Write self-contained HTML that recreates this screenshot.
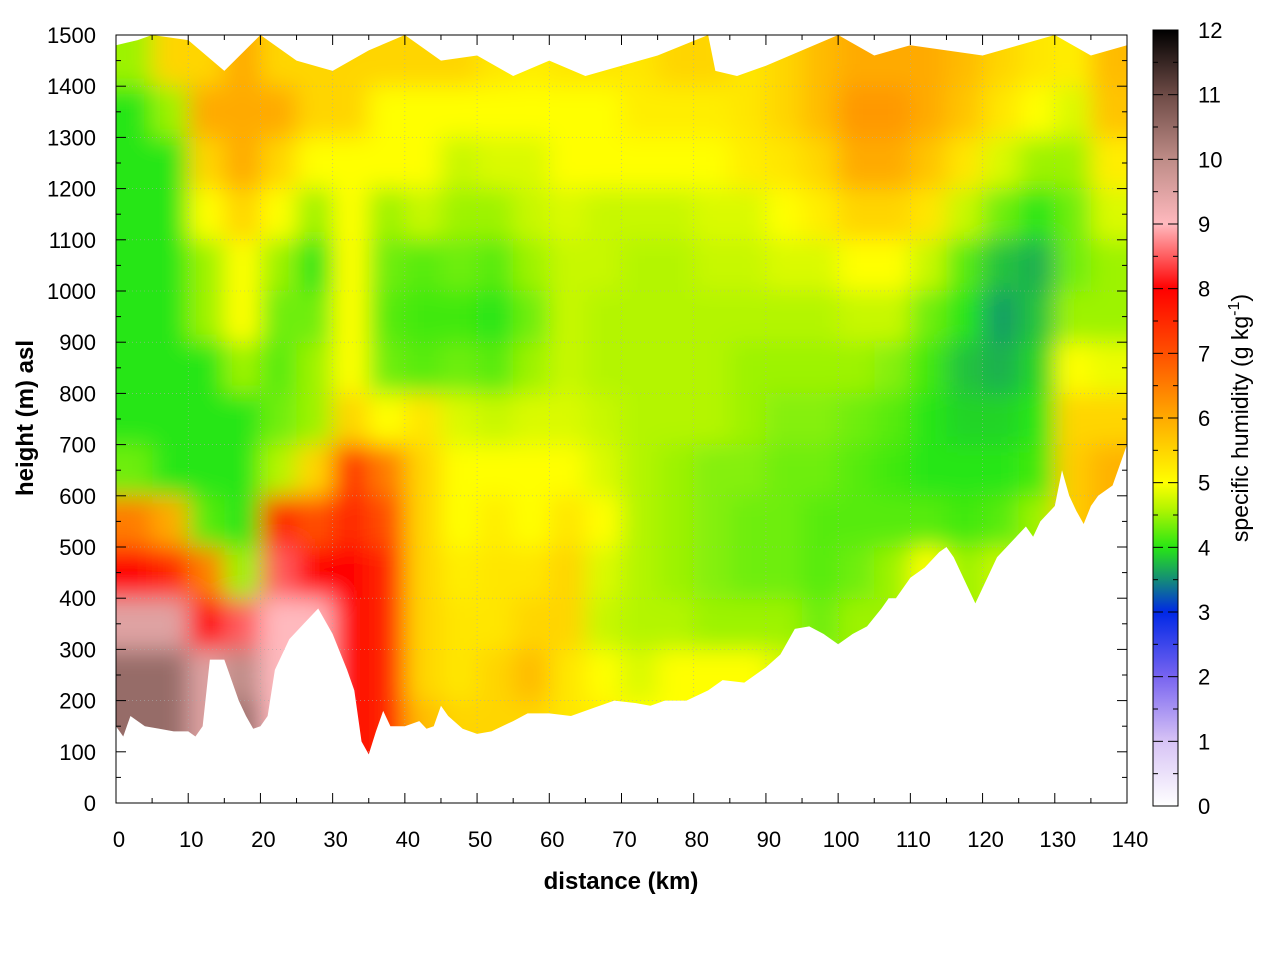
<!DOCTYPE html>
<html><head><meta charset="utf-8"><style>
body{margin:0;background:#fff}
svg text{font-family:"Liberation Sans",sans-serif;fill:#000}
</style></head><body>
<svg id="chart" width="1280" height="960" xmlns="http://www.w3.org/2000/svg">
<defs>
<clipPath id="plotclip"><rect x="116" y="35" width="1011" height="768"/></clipPath>
<filter id="blur" x="-5%" y="-5%" width="110%" height="110%"><feGaussianBlur stdDeviation="12"/></filter>
<linearGradient id="cbgrad" x1="0" y1="1" x2="0" y2="0"></linearGradient>
</defs>
<g id="heat" clip-path="url(#plotclip)"><g id="cells" filter="url(#blur)"></g></g>
<g id="grid"></g>
<path id="ground" fill="#fff"/>
<path id="topmask" fill="#fff"/>
<rect x="116" y="35" width="1011" height="768" fill="none" stroke="#000" stroke-width="1"/>
<g id="axes"></g>
<text x="621" y="889" font-size="24" font-weight="bold" text-anchor="middle">distance (km)</text>
<text transform="translate(33,418) rotate(-90)" font-size="24" font-weight="bold" text-anchor="middle">height (m) asl</text>
<rect x="1153" y="30" width="25" height="776" fill="url(#cbgrad)" stroke="#000" stroke-width="1"/>
<g id="cbaxis"></g>
<text transform="translate(1248,418) rotate(-90)" font-size="23" text-anchor="middle">specific humidity (g kg<tspan dy="-9" font-size="16">-1</tspan><tspan dy="9">)</tspan></text>
</svg>
<script>
const xTicks=[0,10,20,30,40,50,60,70,80,90,100,110,120,130,140];
const yTicks=[0,100,200,300,400,500,600,700,800,900,1000,1100,1200,1300,1400,1500];
const cbTicks=[0,1,2,3,4,5,6,7,8,9,10,11,12];
const colKm=[2.5,7.5,12.5,17.5,22.5,27.5,32.5,37.5,42.5,47.5,52.5,57.5,62.5,67.5,72.5,77.5,82.5,87.5,92.5,97.5,102.5,107.5,112.5,117.5,122.5,127.5,132.5,137.5];
const rowM=[1450,1350,1250,1150,1050,950,850,750,650,550,450,350,250,150,50];
const q=[
[4.5,4,4,4,4,4,4,4,4.3,6.5,8,9.5,10.5,10.5,10.5],
[5.5,4.5,4,4,4,4,4,4,4,6,7.5,9.5,10.5,10.5,10.5],
[5.5,6,5.5,5,4.5,4.5,4,4,4,4.2,6.5,8,9.5,9.5,9.5],
[6,6,6,5.5,5,5,4.5,4,4,4,4.5,8.5,10,10.5,10.5],
[5.5,6,5.5,5,4.5,4.3,4.2,4.3,4.6,7.5,8.5,9,9,9,9],
[5.5,5.5,5,4.5,4,4.3,4.5,4.5,5.5,7,8,9,9,9,9],
[5.5,5.5,5,5,5,5,5,5.5,7.3,7.5,8,8,8,8,8],
[5.5,5,5,4.5,4.3,4.2,4.3,5,6.5,7,7.5,7.5,7.5,7.5,7.5],
[5.5,5,5,4.7,4.2,4.1,4.2,5.3,5.5,5.5,5.5,5.5,5.5,5.8,5.8],
[5.5,5,4.7,4.5,4.3,4.1,4.3,4.8,5,5,5.2,5.3,5.3,5.5,5.5],
[5.3,5,4.8,4.5,4.2,4,4.2,4.7,5,5.2,5.3,5.3,5.5,5.5,5.5],
[5.2,5,4.8,4.7,4.5,4.3,4.5,4.8,5,5,5.3,5.5,5.8,5.5,5.5],
[5.3,5,5,4.8,4.7,4.7,4.7,4.8,5,5.3,5.5,5.5,5.3,5.3,5.3],
[5.3,5,5,4.7,4.7,4.6,4.6,4.7,4.8,5,4.8,4.7,5,5.2,5.2],
[5.3,5.2,5,4.7,4.6,4.6,4.6,4.6,4.6,4.6,4.6,4.6,4.8,5,5],
[5.5,5.2,5,4.7,4.6,4.6,4.6,4.6,4.5,4.5,4.5,4.6,5,5,5],
[5.5,5.2,5,4.8,4.7,4.6,4.6,4.6,4.4,4.4,4.4,4.5,5,5,5],
[5.3,5.3,5.2,4.8,4.7,4.6,4.5,4.5,4.4,4.3,4.3,4.5,5,5,5],
[5.5,5.5,5.3,5,4.8,4.6,4.5,4.4,4.3,4.3,4.3,4.5,4.8,4.8,4.8],
[5.8,5.8,5.5,5.2,4.8,4.6,4.5,4.4,4.3,4.2,4.2,4.3,4.5,4.5,4.5],
[6,6.2,6,5.5,5,4.7,4.5,4.3,4.2,4.2,4.3,4.5,4.5,4.5,4.5],
[6,6.2,6,5.5,5,4.7,4.4,4.2,4.1,4.2,4.5,4.5,4.5,4.5,4.5],
[6,6,5.7,5.3,4.7,4.3,4.1,4,4,4.2,5,5,5,5,5],
[5.8,5.7,5.3,4.7,4.2,4,3.8,3.9,4,4.1,4.5,4.5,4.5,4.5,4.5],
[5.5,5.3,4.8,4.3,3.8,3.6,3.7,3.9,4,4.2,4.7,4.7,4.7,4.7,4.7],
[5.3,5,4.5,4,3.7,3.8,3.9,4,4.1,4.5,4.5,4.5,4.5,4.5,4.5],
[5.2,4.8,4.5,4.3,4.3,4.5,5,5.5,5.6,5.6,5.6,5.6,5.6,5.6,5.6],
[5.8,5.7,5.2,4.8,4.5,4.5,4.9,5.5,5.9,5.9,5.9,5.9,5.9,5.9,5.9]];
const groundKm=[0,1,2,4,6,8,10,11,12,13,15,16,17,18,19,20,21,22,24,26,28,30,32,33,34,35,36,37,38,40,42,43,44,45,46,48,50,52,55,57,60,63,66,69,72,74,76,79,82,84,87,90,92,94,96,98,100,102,104,106,107,108,110,112,114,115,116,117,118,119,120,121,122,124,126,127,128,130,131,132,133,134,135,136,138,140];
const groundM=[150,130,170,150,145,140,140,130,150,280,280,240,200,170,145,150,170,260,320,350,380,330,260,220,120,95,140,180,150,150,160,145,150,190,170,145,135,140,160,175,175,170,185,200,195,190,200,200,220,240,235,265,290,340,345,330,310,330,345,380,400,400,440,460,490,500,480,450,420,390,420,450,480,510,540,520,550,580,650,600,570,545,580,600,620,700];
const topKm=[0,3,5,10,15,20,25,30,35,40,45,50,55,60,65,70,75,82,83,86,90,95,100,105,110,115,120,125,130,135,140];
const topM=[1480,1490,1500,1490,1430,1500,1450,1430,1470,1500,1450,1460,1420,1450,1420,1440,1460,1500,1430,1420,1440,1470,1500,1460,1480,1470,1460,1480,1500,1460,1480];
const stops=[[0,[255,255,255]],[1,[215,195,245]],[2,[120,100,240]],[3,[0,40,230]],[3.5,[20,140,120]],[4,[40,230,20]],[4.6,[180,245,0]],[5,[255,255,0]],[6,[255,170,0]],[7,[255,80,0]],[8,[255,0,0]],[9,[255,185,190]],[10,[190,140,135]],[11,[110,75,70]],[12,[0,0,0]]];
const NS='http://www.w3.org/2000/svg';
const X=k=>116+k*1011/140, Y=m=>803-m*768/1500;
function col(v){for(let i=1;i<stops.length;i++){if(v<=stops[i][0]){const a=stops[i-1],b=stops[i],t=(v-a[0])/(b[0]-a[0]);return 'rgb('+a[1].map((c,j)=>Math.round(c+(b[1][j]-c)*t)).join(',')+')';}}return 'rgb(0,0,0)';}
function mk(tag,attrs,parent){const e=document.createElementNS(NS,tag);for(const k in attrs)e.setAttribute(k,attrs[k]);parent.appendChild(e);return e;}
const cells=document.getElementById('cells');
colKm.forEach((k,i)=>rowM.forEach((m,j)=>{const ext=(i===0?-40:0),extR=(i===colKm.length-1?40:0),extT=(j===0?40:0),extB=(j===rowM.length-1?40:0);
const r=mk('rect',{x:X(k-2.5)+ext,y:Y(m+50)-extT,width:X(5)-116+1-ext+extR,height:Y(0)-Y(100)+1+extT+extB,fill:col(q[i][j])},cells);

}));
let d='M'+X(0)+','+Y(0);groundKm.forEach((k,i)=>d+=' L'+X(k)+','+Y(groundM[i]));d+=' L'+X(140)+','+Y(0)+' Z';
document.getElementById('ground').setAttribute('d',d);
let t='M'+X(0)+','+Y(1500);topKm.forEach((k,i)=>t+=' L'+X(k)+','+Y(topM[i]));t+=' L'+X(140)+','+Y(1500)+' Z';
document.getElementById('topmask').setAttribute('d',t);
const grid=document.getElementById('grid'),axes=document.getElementById('axes');
xTicks.forEach(k=>{const x=X(k);
if(k>0&&k<140){const g=mk('line',{x1:x,x2:x,y1:35,y2:803,stroke:'#aaa','stroke-width':0.6,'stroke-dasharray':'1,3'},grid);}
mk('line',{x1:x,x2:x,y1:803,y2:793,stroke:'#000'},axes);mk('line',{x1:x,x2:x,y1:35,y2:45,stroke:'#000'},axes);
if(k<140){const xm=X(k+5);mk('line',{x1:xm,x2:xm,y1:803,y2:798,stroke:'#000'},axes);mk('line',{x1:xm,x2:xm,y1:35,y2:40,stroke:'#000'},axes);}
const l=mk('text',{x:x+3,y:847,'font-size':22,'text-anchor':'middle'},axes);l.textContent=k;});
yTicks.forEach(m=>{const y=Y(m);
if(m>0&&m<1500){const g=mk('line',{x1:116,x2:1127,y1:y,y2:y,stroke:'#aaa','stroke-width':0.6,'stroke-dasharray':'1,3'},grid);}
mk('line',{x1:116,x2:126,y1:y,y2:y,stroke:'#000'},axes);mk('line',{x1:1117,x2:1127,y1:y,y2:y,stroke:'#000'},axes);
if(m<1500){const ym=Y(m+50);mk('line',{x1:116,x2:121,y1:ym,y2:ym,stroke:'#000'},axes);mk('line',{x1:1122,x2:1127,y1:ym,y2:ym,stroke:'#000'},axes);}
const l=mk('text',{x:96,y:y+8,'font-size':22,'text-anchor':'end'},axes);l.textContent=m;});
const grad=document.getElementById('cbgrad');
stops.forEach(s=>mk('stop',{offset:(s[0]/12*100)+'%','stop-color':col(s[0])},grad));
const cb=document.getElementById('cbaxis');
cbTicks.forEach(v=>{const y=806-v*776/12;
mk('line',{x1:1153,x2:1163,y1:y,y2:y,stroke:'#000'},cb);mk('line',{x1:1168,x2:1178,y1:y,y2:y,stroke:'#000'},cb);
if(v<12){const ym=y-776/24;mk('line',{x1:1153,x2:1158,y1:ym,y2:ym,stroke:'#000'},cb);mk('line',{x1:1173,x2:1178,y1:ym,y2:ym,stroke:'#000'},cb);}
const l=mk('text',{x:1198,y:y+8,'font-size':22},cb);l.textContent=v;});
</script>
</body></html>
